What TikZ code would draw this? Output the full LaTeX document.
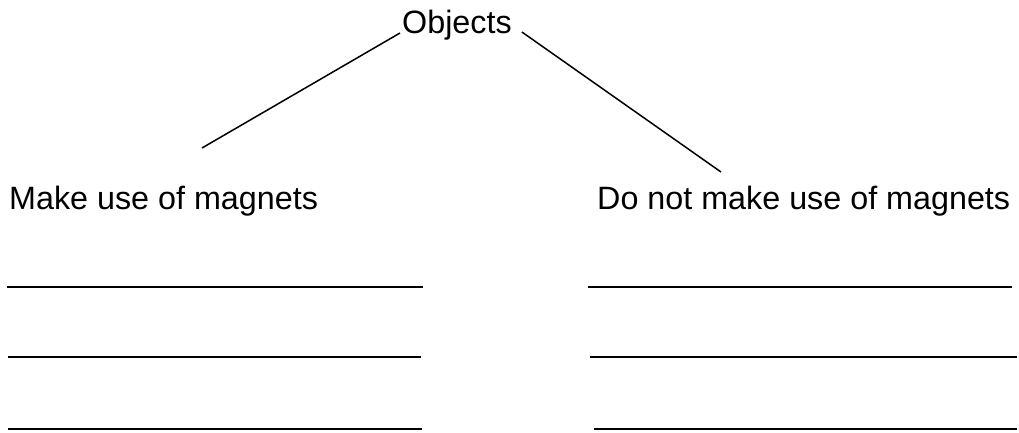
\documentclass[tikz,border=0pt]{standalone}
\usepackage{fontspec}
\setmainfont{Liberation Sans}
\usetikzlibrary{positioning}

\begin{document}
\begin{tikzpicture}[x=1pt, y=-1pt, every node/.style={font=\fontsize{32.3}{38}\selectfont, inner sep=0pt, anchor=base west}, branch/.style={line width=1.5pt}, blank/.style={line width=1.8pt}]

\useasboundingbox (0,0) rectangle (1019,432);

% Nodes
\node (obj) at (402,33) {Objects};
\node (uses) at (9,209) {Make use of magnets};
\node (nouse) at (597,209) {Do not make use of magnets};
\coordinate (lend) at (202,148);
\coordinate (rend) at (721,172);

% Branches
\draw[branch] ([xshift=-2pt]obj.base west) -- (lend);
\draw[branch] ([xshift=10pt, yshift=1pt]obj.base east) -- (rend);

% Blank lines
\foreach \y/\la/\lb/\ra/\rb in {287/7/423/588/1012, 357/8/421/590/1017, 429/8/422/594/1017} {
  \draw[blank] (\la,\y) -- (\lb,\y);
  \draw[blank] (\ra,\y) -- (\rb,\y);
}

\end{tikzpicture}
\end{document}
